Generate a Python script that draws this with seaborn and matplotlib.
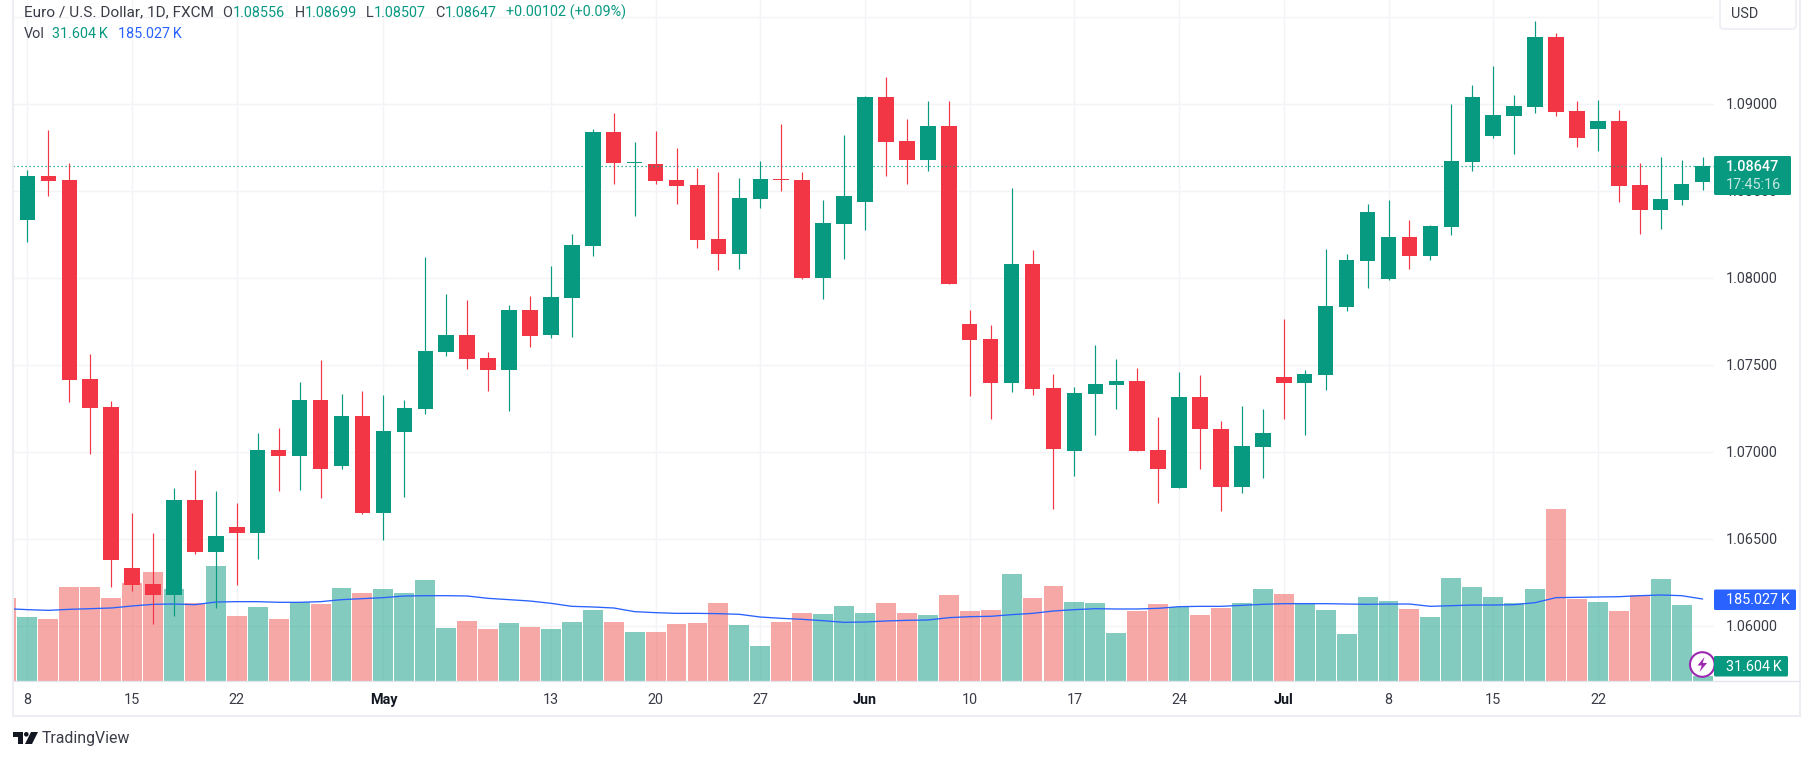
import numpy as np
import pandas as pd
import seaborn as sns
import matplotlib.pyplot as plt
from matplotlib.patches import Rectangle, Circle, Polygon, FancyBboxPatch

# EUR/USD daily candles (first bar is cut by the left edge)
dates = pd.bdate_range('2024-04-05', periods=82)

opens = [1.08368, 1.08335, 1.08588, 1.08565, 1.07421, 1.0726, 1.06335, 1.06243, 1.0618, 1.06726,
         1.06427, 1.06571, 1.06536, 1.07013, 1.06979, 1.07301, 1.06921, 1.07209, 1.06651, 1.07117,
         1.07249, 1.07577, 1.07674, 1.07542, 1.07473, 1.07818, 1.07674, 1.07887, 1.08186, 1.08841,
         1.08663, 1.08657, 1.08565, 1.08536, 1.08226, 1.0814, 1.08456, 1.08571, 1.08565, 1.08002,
         1.08312, 1.08439, 1.09042, 1.08789, 1.0868, 1.08876, 1.07738, 1.07651, 1.07398, 1.08082,
         1.0737, 1.07008, 1.07335, 1.07387, 1.0741, 1.07013, 1.06795, 1.07318, 1.07134, 1.06801,
         1.07031, 1.07433, 1.07398, 1.07444, 1.07835, 1.081, 1.07996, 1.08238, 1.08128, 1.08295,
         1.08669, 1.08818, 1.08933, 1.08985, 1.09387, 1.08962, 1.08858, 1.08904, 1.08536, 1.08393,
         1.0845, 1.08556]
highs = [1.08385, 1.08623, 1.08852, 1.08663, 1.07565, 1.07295, 1.06651, 1.06536, 1.06795, 1.06898,
         1.06778, 1.06709, 1.07111, 1.0714, 1.07404, 1.07531, 1.07335, 1.07353, 1.0733, 1.07301,
         1.08123, 1.0791, 1.07876, 1.07577, 1.07847, 1.07899, 1.08071, 1.08255, 1.08859, 1.0895,
         1.08784, 1.08847, 1.08749, 1.08634, 1.08611, 1.08577, 1.08674, 1.08887, 1.08611, 1.0845,
         1.08824, 1.09048, 1.09157, 1.08916, 1.09019, 1.09019, 1.07818, 1.07732, 1.08519, 1.08163,
         1.0745, 1.07375, 1.07617, 1.07536, 1.07485, 1.07203, 1.07462, 1.07444, 1.0718, 1.07266,
         1.07249, 1.07766, 1.07473, 1.08169, 1.0814, 1.08427, 1.0845, 1.08335, 1.08307, 1.09002,
         1.09111, 1.0922, 1.09054, 1.09479, 1.0941, 1.09019, 1.09025, 1.08967, 1.08663, 1.08697,
         1.0868, 1.08699]
lows = [1.08345, 1.08209, 1.08473, 1.07289, 1.0699, 1.06226, 1.06203, 1.06013, 1.06059, 1.06415,
        1.06105, 1.06237, 1.06387, 1.06778, 1.06783, 1.06738, 1.06904, 1.06646, 1.06496, 1.06743,
        1.0722, 1.07554, 1.07479, 1.07353, 1.07238, 1.07605, 1.07657, 1.07663, 1.08129, 1.08542,
        1.08358, 1.08542, 1.08427, 1.08174, 1.08048, 1.08054, 1.08404, 1.08502, 1.07996, 1.07881,
        1.08111, 1.08278, 1.08588, 1.08542, 1.08617, 1.07967, 1.07324, 1.07191, 1.07347, 1.07329,
        1.06674, 1.06864, 1.071, 1.07249, 1.07008, 1.06709, 1.06795, 1.06904, 1.06663, 1.06766,
        1.06852, 1.07192, 1.071, 1.07358, 1.07812, 1.07945, 1.0799, 1.08054, 1.08105, 1.08249,
        1.08617, 1.08806, 1.08715, 1.0895, 1.08933, 1.08755, 1.08732, 1.08439, 1.08255, 1.08283,
        1.08421, 1.08507]
closes = [1.08352, 1.08588, 1.08559, 1.07416, 1.07255, 1.06381, 1.06237, 1.0618, 1.06726, 1.06427,
          1.06519, 1.06536, 1.07013, 1.06979, 1.07301, 1.06904, 1.07209, 1.06651, 1.07123, 1.07255,
          1.07582, 1.07674, 1.07536, 1.07473, 1.07818, 1.07669, 1.07893, 1.08192, 1.08841, 1.08663,
          1.08669, 1.08559, 1.08531, 1.0822, 1.0814, 1.08462, 1.08571, 1.08565, 1.08002, 1.08318,
          1.08473, 1.09042, 1.08784, 1.0868, 1.08876, 1.07967, 1.07646, 1.07398, 1.08082, 1.07364,
          1.07019, 1.07341, 1.07393, 1.0741, 1.07008, 1.06904, 1.07318, 1.07134, 1.06801, 1.07036,
          1.07111, 1.07398, 1.0745, 1.07841, 1.08105, 1.08381, 1.08238, 1.08128, 1.08301, 1.08674,
          1.09042, 1.08939, 1.0899, 1.09387, 1.08956, 1.08806, 1.08904, 1.08531, 1.08393, 1.08456,
          1.08542, 1.08647]

# volume in thousands and its moving average
volume = [187, 149.1, 145.2, 208.9, 208.9, 187, 216.9, 238.8, 204.9, 177,
          250.7, 151.1, 169.1, 145.2, 179, 175, 206.9, 197, 204.9, 197,
          222.8, 127.2, 141.2, 125.2, 137.2, 129.2, 125.2, 139.2, 163.1, 139.2,
          119.3, 119.3, 135.2, 137.2, 177, 133.2, 91.4, 139.2, 157.1, 155.1,
          171.1, 157.1, 177, 157.1, 153.1, 193, 161.1, 163.1, 234.8, 187,
          210.9, 179, 177, 117.3, 161.1, 175, 169.1, 153.1, 167.1, 177,
          204.9, 195, 177, 163.1, 115.3, 189, 181, 165.1, 149.1, 226.8,
          208.9, 189, 177, 204.9, 364.3, 185, 179, 161.1, 193, 224.8,
          173, 31.6]
volume_ma = [165.7, 163.8, 162.4, 164.4, 165.7, 167.1, 171.1, 174.4, 175, 173.7,
             179, 179.7, 179.7, 178.4, 178.4, 179.7, 183.7, 185.7, 187.7, 191,
             191.6, 191.6, 191, 186.3, 183.7, 181, 176.4, 170.4, 169.1, 167.1,
             159.8, 157.8, 156.4, 156.4, 155.8, 154.5, 149.1, 146.5, 144.5, 141.8,
             138.5, 139.2, 141.2, 142.5, 143.2, 147.8, 149.8, 150.5, 153.8, 156.4,
             161.1, 163.8, 165.7, 165.1, 165.1, 166.4, 169.7, 170.4, 170.4, 172.4,
             174.4, 175.7, 175.7, 175.7, 175, 174.4, 175, 175, 170.4, 171.7,
             173, 173, 173.7, 177.7, 187.7, 188.3, 189, 189.6, 191.6, 193,
             191.6, 185]

price_ticks = [1.06, 1.065, 1.07, 1.075, 1.08, 1.085, 1.09, 1.095]
price_labels = ['1.06000', '1.06500', '1.07000', '1.07500', '1.08000', '1.08500', '1.09000']
tick_days = ['2024-04-08', '2024-04-15', '2024-04-22', '2024-05-01', '2024-05-13', '2024-05-20',
             '2024-05-27', '2024-06-03', '2024-06-10', '2024-06-17', '2024-06-24', '2024-07-01',
             '2024-07-08', '2024-07-15', '2024-07-22']
tick_labels = ['8', '15', '22', 'May', '13', '20', '27', 'Jun', '10', '17', '24', 'Jul', '8', '15', '22']
last_price = 1.08647

GREEN = '#089981'
RED = '#F23645'
VOL_RED = '#EF5350'
BLUE = '#2962FF'
GRID = '#F3F4F7'
FRAME = '#EDEEF4'
TEXT = '#3A3D47'

sns.set_theme(style='white')
plt.rcParams['font.family'] = ['Roboto', 'DejaVu Sans']

W, H = 1814, 760
fig = plt.figure(figsize=(W / 100, H / 100), dpi=100, facecolor='white')
rect = [13 / W, 1 - 681 / H, 1701 / W, 681 / H]

df = pd.DataFrame({'date': dates, 'open': opens, 'high': highs, 'low': lows, 'close': closes,
                   'volume': volume, 'ma': volume_ma})
df['pos'] = np.arange(len(df)) - 1
df['side'] = np.where(df['close'] >= df['open'], 'up', 'down')
tick_pos = [df.loc[df['date'] == d, 'pos'].iloc[0] for d in tick_days]

xlim = ((13 - 27.4) / 20.94, (1714 - 27.4) / 20.94)
ylim_price = (1.056856, 1.095994)
ylim_vol = (21.66, 1378.2)

# bottom layer: grid only
ax_grid = fig.add_axes(rect, zorder=1)
ax_grid.set_xlim(xlim)
ax_grid.set_ylim(ylim_price)
ax_grid.set_yticks(price_ticks)
ax_grid.set_xticks(tick_pos)
ax_grid.grid(True, color=GRID, lw=1.0)
ax_grid.tick_params(left=False, bottom=False, labelleft=False, labelbottom=False)
sns.despine(ax=ax_grid, left=True, bottom=True)

# volume bars and moving average
ax_vol = fig.add_axes(rect, zorder=2)
ax_vol.patch.set_visible(False)
sns.barplot(data=df, x='pos', y='volume', hue='side', palette={'up': GREEN, 'down': VOL_RED},
            hue_order=['up', 'down'], dodge=False, native_scale=True, width=0.95, alpha=0.5,
            saturation=1, linewidth=0, legend=False, errorbar=None, ax=ax_vol)
sns.lineplot(data=df, x='pos', y='ma', color=BLUE, lw=0.95, errorbar=None, ax=ax_vol)
ax_vol.set_xlim(xlim)
ax_vol.set_ylim(ylim_vol)
ax_vol.axis('off')

# candles on top
ax = fig.add_axes(rect, zorder=3)
ax.patch.set_visible(False)
ax.hlines(last_price, xlim[0], xlim[1], color=GREEN, lw=0.9, linestyles=(0, (1, 2.2)))
for side, col in (('up', GREEN), ('down', RED)):
    sub = df[df['side'] == side]
    ax.vlines(sub['pos'], sub['low'], sub['high'], color=col, lw=0.85)
    ax.bar(sub['pos'], (sub['close'] - sub['open']).abs(), bottom=sub[['open', 'close']].min(axis=1),
           width=0.74, color=col, linewidth=0)
ax.set_xlim(xlim)
ax.set_ylim(ylim_price)
ax.axis('off')

# everything else lives on a pixel overlay
ov = fig.add_axes([0, 0, 1, 1], zorder=4)
ov.patch.set_visible(False)
ov.set_xlim(0, W)
ov.set_ylim(H, 0)
ov.axis('off')

# chart frame
ov.add_patch(Rectangle((12.5, -2), 1787.5, 718, fill=False, ec=FRAME, lw=1.5))
ov.plot([14, 1800], [681, 681], color='#E4E6EE', lw=0.9)

FS = 10.4
def label(x, y, s, color=TEXT, ha='left', fs=FS, z=3, **kw):
    ov.text(x, y + 0.7, s, color=color, ha=ha, va='center', fontsize=fs, zorder=z, **kw)

# header legend
label(23.5, 12, 'Euro / U.S. Dollar, 1D, FXCM', fs=11.1)
for x, s in ((222.5, 'O'), (294.5, 'H'), (366, 'L'), (435, 'C')):
    label(x, 12, s)
for x, s in ((233, '1.08556'), (304.5, '1.08699'), (374, '1.08507'), (444.5, '1.08647'),
             (505.8, '+0.00102 (+0.09%)')):
    label(x, 12, s, color=GREEN)
label(23.5, 33, 'Vol')
label(52.5, 33, '31.604\u2009K', color=GREEN)
label(117.5, 33, '185.027\u2009K', color=BLUE)

# date axis
for pos, s in zip(tick_pos, tick_labels):
    px = 27.4 + 20.94 * pos
    label(px, 699, s, ha='center', color='#131722' if s.isalpha() else TEXT,
          fontweight='bold' if s.isalpha() else 'normal')

# price axis
for p, s in zip(price_ticks, price_labels):
    label(1726, 104.3 + (1.09 - p) * 17400, s)

ov.add_patch(FancyBboxPatch((1720, -6), 76, 35, boxstyle='round,pad=0,rounding_size=4',
                            fc='white', ec='#EEF0F6', lw=1.4))
label(1730.5, 13, 'USD')

# last price tag sits over the 1.08500 label, as in the picture
ov.add_patch(FancyBboxPatch((1714, 156), 77, 39, boxstyle='round,pad=0,rounding_size=1.5',
                            fc=GREEN, ec='none', zorder=4))
label(1726, 166.5, '1.08647', color='white', fontweight='medium', z=5)
label(1726, 184.5, '17:45:16', color='#C3E6DF', z=5)

ov.add_patch(FancyBboxPatch((1714, 589.5), 82, 20.5, boxstyle='round,pad=0,rounding_size=1.5',
                            fc=BLUE, ec='none', zorder=4))
label(1726, 599.5, '185.027\u2009K', color='white', z=5)
ov.add_patch(FancyBboxPatch((1714, 656), 74, 20.5, boxstyle='round,pad=0,rounding_size=1.5',
                            fc=GREEN, ec='none', zorder=4))
label(1726, 666, '31.604\u2009K', color='white', z=5)

# lightning badge
ov.add_patch(Circle((1702.3, 664.5), 12.3, fc='white', ec='#9C27B0', lw=1.5))
ov.add_patch(Polygon([(1704.5, 657), (1697.5, 665.5), (1701.8, 665.5), (1699.5, 672),
                      (1707, 663), (1702.7, 663)], fc='#9C27B0', ec='none'))

# TradingView mark
ov.add_patch(Polygon([(13, 732), (23, 732), (23, 744), (17.5, 744), (17.5, 736.5), (13, 736.5)],
                     fc='#131722', ec='none'))
ov.add_patch(Circle((26.3, 734.3), 2.3, fc='#131722', ec='none'))
ov.add_patch(Polygon([(31, 732), (38, 732), (32, 744), (25, 744)], fc='#131722', ec='none'))
label(42, 738, 'TradingView', color='#3A3D47', fs=11.4)

fig.savefig('out.png', dpi=100)
